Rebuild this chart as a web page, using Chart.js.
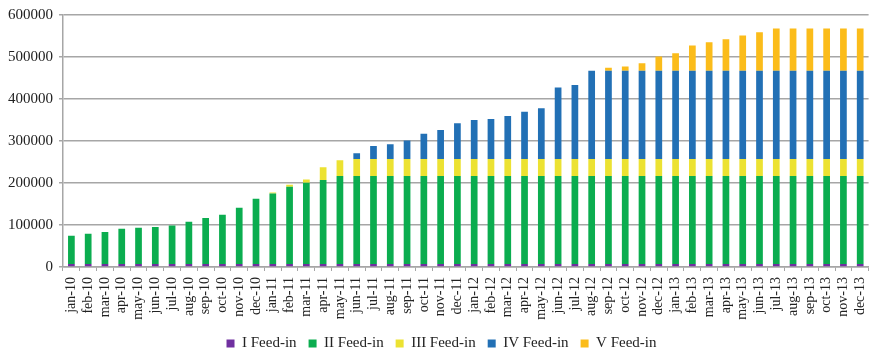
<!DOCTYPE html>
<html>
<head>
<meta charset="utf-8">
<script src="https://cdn.jsdelivr.net/npm/chart.js@4"></script>
<style>
  html, body { margin: 0; padding: 0; background: #fff; overflow: hidden; }
  #wrap { width: 883px; height: 361px; }
</style>
</head>
<body>
<div id="wrap"><canvas id="chartFeed"></canvas></div>
<script>
const months = [
  "jan-10","feb-10","mar-10","apr-10","may-10","jun-10","jul-10","aug-10","sep-10","oct-10","nov-10","dec-10",
  "jan-11","feb-11","mar-11","apr-11","may-11","jun-11","jul-11","aug-11","sep-11","oct-11","nov-11","dec-11",
  "jan-12","feb-12","mar-12","apr-12","may-12","jun-12","jul-12","aug-12","sep-12","oct-12","nov-12","dec-12",
  "jan-13","feb-13","mar-13","apr-13","may-13","jun-13","jul-13","aug-13","sep-13","oct-13","nov-13","dec-13"
];

const feedI = [
  7000,7000,7000,7000,7000,7000,7000,7000,7000,7000,7000,7000,
  7000,7000,7000,7000,7000,7000,7000,7000,7000,7000,7000,7000,
  7000,7000,7000,7000,7000,7000,7000,7000,7000,7000,7000,7000,
  7000,7000,7000,7000,7000,7000,7000,7000,7000,7000,7000,7000
];

const feedII = [
  67400,72200,76100,84000,86400,88000,92000,100700,109400,117300,133900,155300,
  168000,183800,193300,200400,209900,209900,209900,209900,209900,209900,209900,209900,
  209900,209900,209900,209900,209900,209900,209900,209900,209900,209900,209900,209900,
  209900,209900,209900,209900,209900,209900,209900,209900,209900,209900,209900,209900
];

const feedIII = [
  0,0,0,0,0,0,0,0,0,0,0,0,
  2500,4800,7900,30100,37300,40400,40400,40400,40400,40400,40400,40400,
  40400,40400,40400,40400,40400,40400,40400,40400,40400,40400,40400,40400,
  40400,40400,40400,40400,40400,40400,40400,40400,40400,40400,40400,40400
];

const feedIV = [
  0,0,0,0,0,0,0,0,0,0,0,0,
  0,0,0,0,0,13500,30900,34900,43600,60200,68900,84700,
  92700,95000,102200,112500,120400,170300,175800,209800,209800,209800,209800,209800,
  209800,209800,209800,209800,209800,209800,209800,209800,209800,209800,209800,209800
];

const feedV = [
  0,0,0,0,0,0,0,0,0,0,0,0,
  0,0,0,0,0,0,0,0,0,0,0,0,
  0,0,0,0,0,0,0,0,7200,10300,18300,34100,
  42000,60200,68100,75300,84000,91900,100600,100600,100600,100600,100600,100600
];

const yTicks = [0, 100000, 200000, 300000, 400000, 500000, 600000];

const serif = "'Liberation Serif', 'Times New Roman', serif";
const axisGrey = "#a6a6a6";

function ds(label, data, color) {
  return {
    label: label,
    data: data,
    backgroundColor: color,
    borderWidth: 0,
    barPercentage: 0.4,
    categoryPercentage: 1.0,
  };
}

new Chart(document.getElementById("chartFeed"), {
  type: "bar",
  data: {
    labels: months,
    datasets: [
      ds("I Feed-in", feedI, "#7030a0"),
      ds("II Feed-in", feedII, "#0bad4f"),
      ds("III Feed-in", feedIII, "#ece232"),
      ds("IV Feed-in", feedIV, "#2270b5"),
      ds("V Feed-in", feedV, "#fbbc1a"),
    ],
  },
  options: {
    responsive: true,
    maintainAspectRatio: false,
    animation: false,
    layout: { padding: { top: 8, right: 0, left: 0, bottom: 0 } },
    plugins: {
      tooltip: { enabled: false },
      legend: {
        position: "bottom",
        labels: {
          font: { family: serif, size: 15 },
          color: "#222",
          boxWidth: 8,
          boxHeight: 8,
          padding: 12,
        },
      },
    },
    scales: {
      x: {
        stacked: true,
        offset: true,
        grid: {
          offset: true,
          drawOnChartArea: false,
          color: axisGrey,
          tickLength: 4,
        },
        border: { color: axisGrey, width: 1.5 },
        ticks: {
          autoSkip: false,
          maxRotation: 90,
          minRotation: 90,
          font: { family: serif, size: 14 },
          color: "#222",
          padding: 6,
        },
        // keep the plot bottom fixed regardless of label length
        afterFit: (scale) => { scale.height = 57; },
      },
      y: {
        stacked: true,
        min: 0,
        max: 600000,
        afterBuildTicks: (scale) => {
          scale.ticks = yTicks.map((v) => ({ value: v }));
        },
        grid: { color: axisGrey, lineWidth: 1.5, tickLength: 4 },
        border: { color: axisGrey, width: 1.5 },
        ticks: {
          font: { family: serif, size: 15 },
          color: "#222",
          padding: 6,
          callback: (v) => String(v),
        },
        afterFit: (scale) => { scale.width = 63; },
      },
    },
  },
});
</script>
</body>
</html>
